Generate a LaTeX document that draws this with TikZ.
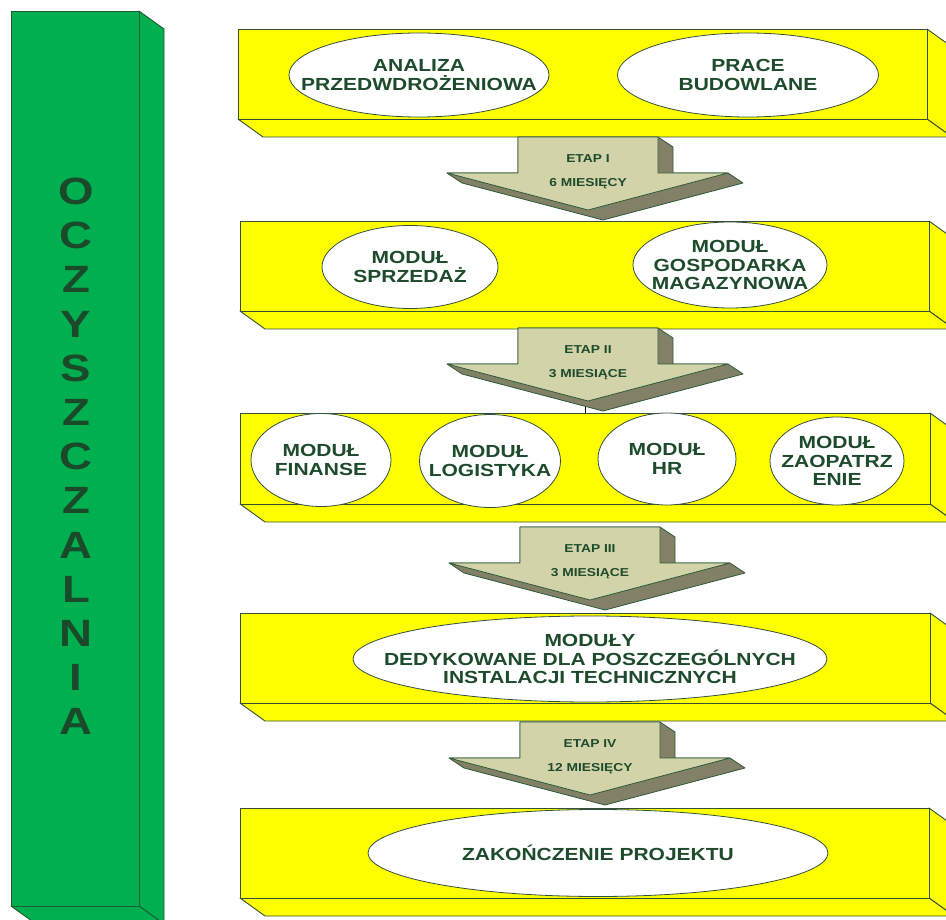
\documentclass[tikz,border=0pt]{standalone}
\usepackage{fontspec}
\usetikzlibrary{shapes.geometric}
\newfontfamily\labfont[FakeStretch=1.2]{Liberation Sans}
\definecolor{ink}{HTML}{1E4B2C}
\definecolor{barfill}{HTML}{00AF50}
\definecolor{barline}{HTML}{1D5C33}
\definecolor{barink}{HTML}{1A4A2A}
\definecolor{boxyellow}{HTML}{FFFF00}
\definecolor{boxline}{HTML}{34503A}
\definecolor{arrowfront}{HTML}{D3D3A9}
\definecolor{arrowside}{HTML}{828066}
\definecolor{arrowline}{HTML}{2E5A3A}
\tikzset{
  barface/.style={fill=barfill,draw=barline,line width=0.9pt,line join=round},
  boxface/.style={fill=boxyellow,draw=boxline,line width=0.9pt,line join=round},
  arrowsidestyle/.style={fill=arrowside,draw=arrowline,line width=0.8pt,line join=round},
  arrowfrontstyle/.style={fill=arrowfront,draw=arrowline,line width=0.8pt,line join=round},
  arrowtext/.style={inner sep=0pt,text=ink,font=\labfont\bfseries\fontsize{11.5}{13}\selectfont},
  modshape/.style={ellipse,draw=boxline,fill=white,line width=0.8pt,inner sep=0pt},
  modtext/.style={inner sep=0pt,align=center,text=ink,
     font=\labfont\bfseries\fontsize{17.5}{18.5}\selectfont},
  bigletter/.style={inner sep=0pt,text=barink,font=\labfont\bfseries\fontsize{38}{40}\selectfont}
}
\newcommand{\yellowblock}[4]{%
  \filldraw[boxface] (#3,#2) -- (#3+25,#2+18) -- (#3+25,#4+18) -- (#3,#4) -- cycle;
  \filldraw[boxface] (#1,#4) -- (#3,#4) -- (#3+25,#4+18) -- (#1+25,#4+18) -- cycle;
  \filldraw[boxface] (#1,#2) rectangle (#3,#4);}
\newcommand{\stagearrow}[5]{%
  \begin{scope}[shift={(#2,#3)}]
    \filldraw[arrowsidestyle] (658,0) -- (673,10) -- (673,36) -- (728,36) -- (743,46) -- (603,83)
       -- (462,46) -- (447,36) -- (518,36) -- (518,0) -- cycle;
    \filldraw[arrowfrontstyle] (518,0) -- (658,0) -- (658,36) -- (728,36) -- (588,73) -- (447,36)
       -- (518,36) -- cycle;
    \node[arrowtext] (#1a) at (588,22) {#4};
    \node[arrowtext] (#1b) at (588,47) {#5};
  \end{scope}}
% module: name, x, y, width, height, text
\newcommand{\module}[6]{%
  \node[modshape,minimum width=#4pt,minimum height=#5pt] (#1) at (#2,#3) {};
  \node[modtext] (#1txt) at (#1.center) {#6};}
\begin{document}
\begin{tikzpicture}[x=1pt,y=-1pt]
\useasboundingbox (0,0) rectangle (946,920);
\clip (0,0) rectangle (946,920);
% green column
\filldraw[barface] (139,11) -- (164,29) -- (164,924) -- (139,906) -- cycle;
\filldraw[barface] (11,906) -- (139,906) -- (164,924) -- (36,924) -- cycle;
\filldraw[barface] (11,11) rectangle (139,906);
\foreach \ch [count=\i] in {O,C,Z,Y,S,Z,C,Z,A,L,N,I,A}
  \node[bigletter,anchor=base] (oc\i) at (76,{204.5+44.2*(\i-1)}) {\ch};
% yellow blocks
\yellowblock{238}{29}{927}{119}
\yellowblock{240}{221}{929}{311}
\yellowblock{240}{413}{930}{504}
\yellowblock{240}{613}{930}{703}
\yellowblock{240}{808}{929}{898}
% stage arrows
\stagearrow{etapI}{0}{137}{ETAP I}{6 MIESIĘCY}
\stagearrow{etapII}{0}{328}{ETAP II}{3 MIESIĄCE}
\stagearrow{etapIII}{2}{527}{ETAP III}{3 MIESIĄCE}
\stagearrow{etapIV}{2}{722}{ETAP IV}{12 MIESIĘCY}
\coordinate (tickA) at (585,407);
\coordinate (tickB) at (585,413);
\draw[black,line width=0.7pt] (tickA) -- (tickB);
% modules
\module{analiza}{419}{75}{260}{84}{ANALIZA\\PRZEDWDROŻENIOWA}
\module{prace}{748}{75}{261}{84}{PRACE\\BUDOWLANE}
\module{sprzedaz}{410}{267}{176}{83}{MODUŁ\\SPRZEDAŻ}
\module{magazyn}{730}{265}{194}{86}{MODUŁ\\GOSPODARKA\\MAGAZYNOWA}
\module{finanse}{321}{460}{140}{93}{MODUŁ\\FINANSE}
\module{logistyka}{490}{461}{141}{93}{MODUŁ\\LOGISTYKA}
\module{hr}{667}{459}{138}{92}{MODUŁ\\HR}
\module{zaopatrz}{837}{461}{134}{88}{MODUŁ\\ZAOPATRZ\\ENIE}
\module{dedyk}{590}{659}{474}{86}{MODUŁY\\DEDYKOWANE DLA POSZCZEGÓLNYCH\\INSTALACJI TECHNICZNYCH}
\module{koniec}{598}{853}{460}{87}{ZAKOŃCZENIE PROJEKTU}
\end{tikzpicture}
\end{document}
